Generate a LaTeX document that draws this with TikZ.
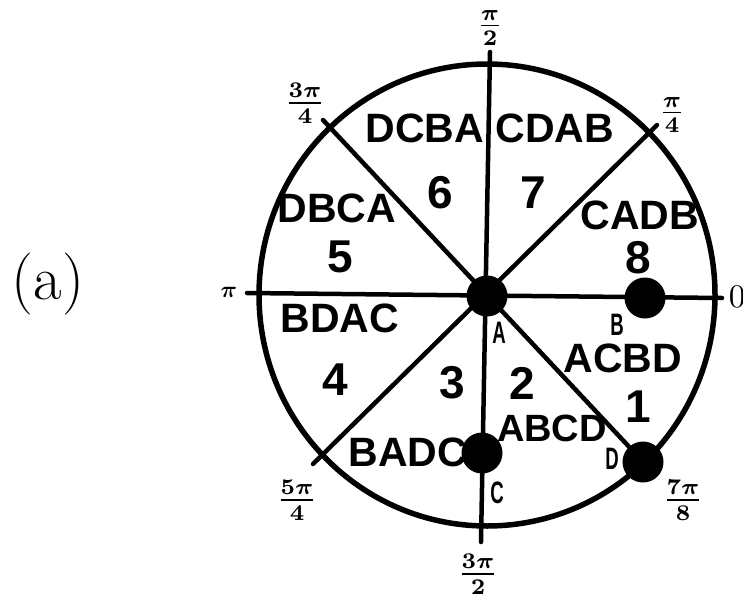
\documentclass[tikz,border=0pt]{standalone}
\usepackage{amsmath}
\usepackage{graphicx}
\usepackage{fontspec}
\usepackage{tikz}
\newfontfamily\regionfont{Liberation Sans}
\newfontfamily\pointfont{Liberation Sans Bold}[FakeStretch=0.6]
\newcommand{\angfrac}[2]{\scalebox{3.2}{\boldmath$\frac{#1}{#2}$}}
\begin{document}
\begin{tikzpicture}[
    x=1pt, y=-1pt,
    spoke/.style={line width=4.5pt, line cap=round},
    rim/.style={line width=5.5pt},
    dot/.style={circle, fill=black, minimum size=41pt, inner sep=0pt},
    perm/.style={inner sep=0pt, font=\regionfont\bfseries\fontsize{41}{41}\selectfont},
    sector/.style={inner sep=0pt, font=\regionfont\bfseries\fontsize{46}{46}\selectfont},
    pointlbl/.style={inner sep=0pt, font=\pointfont\fontsize{31}{31}\selectfont},
    angle/.style={inner sep=0pt, font=\fontsize{10}{12}\selectfont}
  ]
    \useasboundingbox (0,0) rectangle (743,602);
    % circle and spoke ends
    \coordinate (O) at (487,295);
    \draw[rim] (O) ellipse [x radius=228pt, y radius=231pt];
    \coordinate (e0) at (722,298);
    \coordinate (e1) at (657,125);
    \coordinate (e2) at (490,52);
    \coordinate (e3) at (323,120);
    \coordinate (e4) at (247,293);
    \coordinate (e5) at (313,464);
    \coordinate (e6) at (481,542);
    \coordinate (e7) at (648,467);
    \foreach \a/\b in {e0/e4,e2/e6,e1/e5,e3/e7} {\draw[spoke] (\a) -- (\b);}
    % dots
    \node[dot] (dA) at (487,296) {};
    \node[dot] (dB) at (645,298) {};
    \node[dot] (dC) at (482,453) {};
    \node[dot] (dD) at (643,462) {};
    \node[pointlbl] (lA) at (499,333) {A};
    \node[pointlbl] (lB) at (617,325) {B};
    \node[pointlbl] (lC) at (497,493) {C};
    \node[pointlbl] (lD) at (612,459) {D};
    % sectors
    \node[perm] (p6) at (425,128) {DCBA};
    \node[perm] (p7) at (555,128) {CDAB};
    \node[perm] (p5) at (337,208) {DBCA};
    \node[perm] (p8) at (640,215) {CADB};
    \node[perm] (p4) at (340,318) {BDAC};
    \node[perm] (p1) at (623,358) {ACBD};
    \node[perm, font=\regionfont\bfseries\fontsize{38}{38}\selectfont] (p2) at (552,428) {ABCD};
    \node[perm] (p3) at (408,452) {BADC};
    \node[sector] (n6) at (440,193) {6};
    \node[sector] (n7) at (533,193) {7};
    \node[sector] (n5) at (340,257) {5};
    \node[sector] (n8) at (638,258) {8};
    \node[sector] (n4) at (335,380) {4};
    \node[sector] (n3) at (452,383) {3};
    \node[sector] (n2) at (522,383) {2};
    \node[sector] (n1) at (638,407) {1};
    % angles
    \node[angle] (t0) at (737,297) {\scalebox{3.3}{$0$}};
    \node[angle] (t1) at (672,115) {\angfrac{\pi}{4}};
    \node[angle] (t2) at (490,28) {\angfrac{\pi}{2}};
    \node[angle] (t3) at (305,103) {\angfrac{3\pi}{4}};
    \node[angle] (t4) at (229,292) {\scalebox{2.3}{\boldmath$\pi$}};
    \node[angle] (t5) at (297,500) {\angfrac{5\pi}{4}};
    \node[angle] (t6) at (478,574) {\angfrac{3\pi}{2}};
    \node[angle] (t7) at (683,500) {\angfrac{7\pi}{8}};
    \node[inner sep=0pt, font=\fontsize{62}{62}\selectfont] (tag) at (48,284) {(a)};
  \end{tikzpicture}
\end{document}
